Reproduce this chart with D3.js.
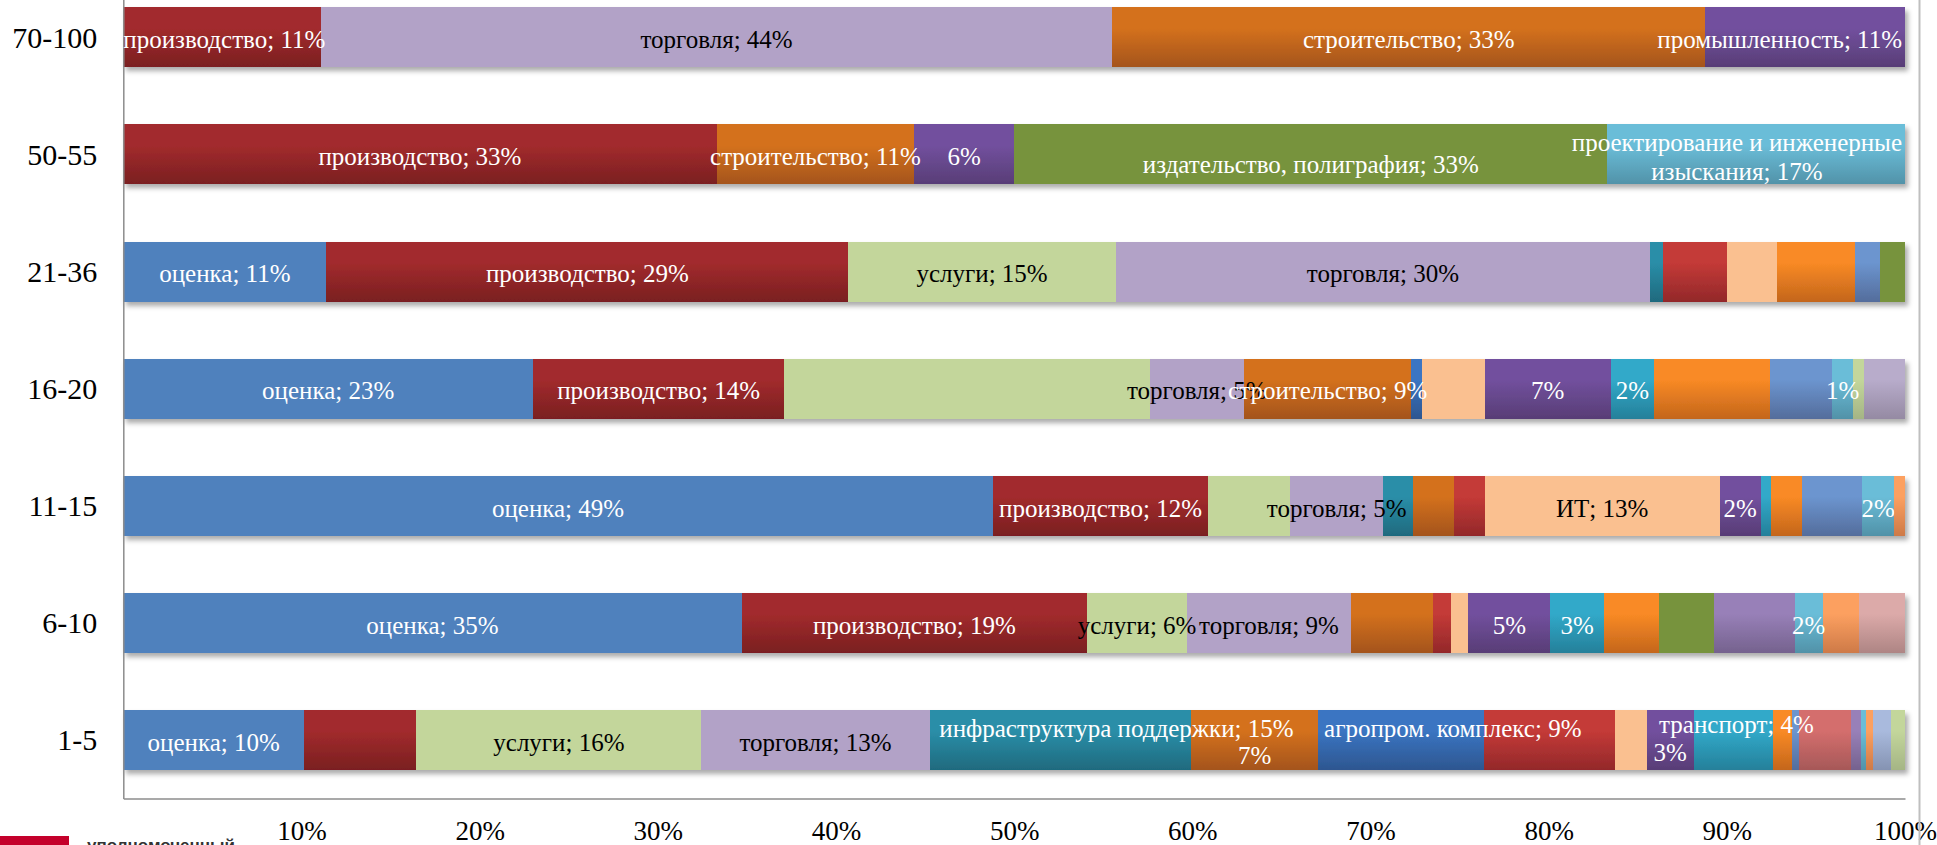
<!DOCTYPE html>
<html><head><meta charset="utf-8">
<script src="https://cdnjs.cloudflare.com/ajax/libs/d3/7.8.5/d3.min.js"></script>
<style>html,body{margin:0;padding:0;background:#fff;overflow:hidden}</style>
</head><body>
<svg id="chart" width="1937" height="845"></svg>
<script>
// ---------- data ----------
const categories = ["70-100", "50-55", "21-36", "16-20", "11-15", "6-10", "1-5"];

const seriesNames = [
  "оценка", "производство", "услуги", "торговля", "инфраструктура поддержки",
  "строительство", "агропром. комплекс", "прочее 8", "ИТ", "промышленность",
  "транспорт", "прочее 12", "прочее 13", "прочее 14", "издательство, полиграфия",
  "прочее 16", "проектирование и инженерные изыскания", "прочее 18", "прочее 19",
  "прочее 20", "прочее 21", "прочее 22"
];

const values_70_100 = [0, 11.1, 0, 44.4, 0, 33.3, 0, 0, 0, 11.2, 0, 0, 0, 0, 0, 0, 0, 0, 0, 0, 0, 0];
const values_50_55  = [0, 33.3, 0, 0, 0, 11.1, 0, 0, 0, 5.6, 0, 0, 0, 0, 33.3, 0, 16.7, 0, 0, 0, 0, 0];
const values_21_36  = [11.4, 29.3, 15.0, 30.0, 0.7, 0, 0, 3.6, 2.8, 0, 0, 4.4, 1.4, 0, 1.4, 0, 0, 0, 0, 0, 0, 0];
const values_16_20  = [23.0, 14.1, 20.5, 5.3, 0, 9.4, 0.6, 0, 3.5, 7.1, 2.4, 6.5, 3.5, 0, 0, 0, 1.2, 0, 0, 0, 0.6, 2.3];
const values_11_15  = [48.8, 12.1, 4.6, 5.2, 1.7, 2.3, 0, 1.7, 13.2, 2.3, 0.6, 1.7, 3.4, 0, 0, 0, 1.8, 0.6, 0, 0, 0, 0];
const values_6_10   = [34.7, 19.4, 5.6, 9.2, 0, 4.6, 0, 1.0, 1.0, 4.6, 3.0, 3.1, 0, 0, 3.1, 4.5, 1.6, 2.0, 2.6, 0, 0, 0];
const values_1_5    = [10.15, 6.3, 16.0, 12.8, 14.7, 7.1, 9.3, 7.35, 1.8, 2.65, 4.45, 1.05, 0.4, 2.9, 0, 0.6, 0.25, 0.4, 0, 1.0, 0.8, 0];

// label mode per point: "n" = name; value, "v" = value only, "" = no label
const labels_70_100 = ["", "n", "", "n", "", "n", "", "", "", "n", "", "", "", "", "", "", "", "", "", "", "", ""];
const labels_50_55  = ["", "n", "", "", "", "n", "", "", "", "v", "", "", "", "", "n", "", "n", "", "", "", "", ""];
const labels_21_36  = ["n", "n", "n", "n", "", "", "", "", "", "", "", "", "", "", "", "", "", "", "", "", "", ""];
const labels_16_20  = ["n", "n", "", "n", "", "n", "", "", "", "v", "v", "", "", "", "", "", "v", "", "", "", "", ""];
const labels_11_15  = ["n", "n", "", "n", "", "", "", "", "n", "v", "", "", "", "", "", "", "v", "", "", "", "", ""];
const labels_6_10   = ["n", "n", "n", "n", "", "", "", "", "", "v", "v", "", "", "", "", "", "v", "", "", "", "", ""];
const labels_1_5    = ["n", "", "n", "n", "n", "v", "n", "", "", "v", "n", "", "", "", "", "", "", "", "", "", "", ""];

const tickValues = [10, 20, 30, 40, 50, 60, 70, 80, 90, 100];
const tickLabels = ["10%", "20%", "30%", "40%", "50%", "60%", "70%", "80%", "90%", "100%"];

// ---------- styles ----------
const seriesTop = ["#4F81BD", "#A22B2D", "#C3D69B", "#B2A2C7", "#2A8EA8", "#D4711D", "#3A75C2", "#C43A37",
  "#FAC090", "#72509E", "#31A9C9", "#F98A25", "#6C95CF", "#D46E6D", "#77933C", "#9880B8",
  "#6BBDD8", "#FCA060", "#DCAAA9", "#A9BADD", "#C3D69B", "#B8ACCB"];
const seriesBottom = ["#4F81BD", "#7A1F20", "#C3D69B", "#B2A2C7", "#1F6A7E", "#A4541A", "#2D5690", "#93282A",
  "#FAC090", "#583D76", "#25809A", "#C4661C", "#546D9C", "#A65858", "#77933C", "#75628E",
  "#5192A8", "#CE7A48", "#AE8584", "#8593B2", "#A5B585", "#958AA3"];
const labelInk = seriesNames.map((d, i) => (i === 2 || i === 3 || i === 8) ? "#000" : "#fff");

const labelAdjust = {
  "1-5|4": {dx: 56, dy: -14},
  "1-5|5": {dy: 13},
  "1-5|6": {dx: 52, dy: -14},
  "1-5|9": {dy: 10},
  "1-5|10": {dx: 3, dy: -18},
  "50-55|14": {dy: 8},
  "50-55|16": {breakAfter: 3}
};

const valuesByCat = {
  "70-100": values_70_100, "50-55": values_50_55, "21-36": values_21_36, "16-20": values_16_20,
  "11-15": values_11_15, "6-10": values_6_10, "1-5": values_1_5
};
const labelsByCat = {
  "70-100": labels_70_100, "50-55": labels_50_55, "21-36": labels_21_36, "16-20": labels_16_20,
  "11-15": labels_11_15, "6-10": labels_6_10, "1-5": labels_1_5
};

// ---------- layout ----------
const svg = d3.select("#chart");
const xLeft = 123.3, xRight = 1905, yBottom = 798.5, step = 117.1;
const x = d3.scaleLinear().domain([0, 100]).range([xLeft, xRight]);
const y = d3.scaleBand().domain(categories)
  .range([yBottom - categories.length * step, yBottom])
  .paddingInner(0.4876).paddingOuter(0.2438);

const defs = svg.append("defs");
seriesNames.forEach((n, i) => {
  const g = defs.append("linearGradient").attr("id", "g" + i)
    .attr("x1", 0).attr("y1", 0).attr("x2", 0).attr("y2", 1);
  g.append("stop").attr("offset", 0).attr("stop-color", seriesTop[i]);
  g.append("stop").attr("offset", 0.35).attr("stop-color", seriesTop[i]);
  g.append("stop").attr("offset", 1).attr("stop-color", seriesBottom[i]);
});
const f = defs.append("filter").attr("id", "sh").attr("x", "-5%").attr("y", "-20%").attr("width", "110%").attr("height", "160%");
f.append("feDropShadow").attr("dx", 3).attr("dy", 4).attr("stdDeviation", 2.5)
  .attr("flood-color", "#000").attr("flood-opacity", 0.33);

// stacked data
const stackRows = categories.map(c => {
  const row = {cat: c};
  seriesNames.forEach((n, i) => row["s" + i] = valuesByCat[c][i]);
  return row;
});
const keys = seriesNames.map((n, i) => "s" + i);
const stacked = d3.stack().keys(keys)(stackRows);

// bars grouped per category (for shadow per bar)
const barGroups = svg.append("g").selectAll("g.bar").data(categories).join("g")
  .attr("class", "bar").attr("filter", "url(#sh)");
barGroups.each(function (c, ci) {
  const g = d3.select(this);
  stacked.forEach((layer, si) => {
    const d = layer[ci];
    if (d[1] - d[0] <= 0) return;
    g.append("rect")
      .attr("x", x(d[0])).attr("y", y(c))
      .attr("width", x(d[1]) - x(d[0])).attr("height", y.bandwidth())
      .attr("fill", "url(#g" + si + ")")
      .attr("shape-rendering", "crispEdges");
  });
});

// axes
const gx = svg.append("g").attr("transform", `translate(0,${yBottom})`)
  .call(d3.axisBottom(x).tickValues(tickValues).tickSize(0).tickSizeOuter(0).tickPadding(22.5)
    .tickFormat((d, i) => tickLabels[i]));
gx.select(".domain").attr("stroke", "#8C8C8C").attr("stroke-width", 1.5);
gx.selectAll("text").attr("font-family", "'Liberation Serif', serif").attr("font-size", 27).attr("fill", "#000");

const gy = svg.append("g").attr("transform", `translate(${xLeft},0)`)
  .call(d3.axisLeft(y).tickSize(0).tickSizeOuter(0).tickPadding(26));
gy.select(".domain").attr("stroke", "#8C8C8C").attr("stroke-width", 1.5);
gy.selectAll("text").attr("font-family", "'Liberation Serif', serif").attr("font-size", 30).attr("fill", "#000").attr("dy", "0.34em");

// data labels
const labelLayer = svg.append("g").attr("font-family", "'Liberation Serif', serif").attr("font-size", 25);
categories.forEach((c, ci) => {
  stacked.forEach((layer, si) => {
    const mode = labelsByCat[c][si];
    const d = layer[ci];
    if (!mode || d[1] - d[0] <= 0) return;
    const v = Math.round(d[1] - d[0]) + "%";
    const full = mode === "n" ? seriesNames[si] + "; " + v : v;
    const adj = labelAdjust[c + "|" + si] || {};
    let lines = [full];
    if (adj.breakAfter) {
      const w = full.split(" ");
      lines = [w.slice(0, adj.breakAfter).join(" "), w.slice(adj.breakAfter).join(" ")];
    }
    const cy = y(c) + y.bandwidth() / 2 + 2 + (adj.dy || 0);
    let cx = (x(d[0]) + x(d[1])) / 2 + (adj.dx || 0);
    const t = labelLayer.append("text").attr("fill", labelInk[si]).attr("text-anchor", "middle");
    const lh = 29;
    lines.forEach((ln, li) => {
      t.append("tspan").attr("x", cx)
        .attr("y", cy + (li - (lines.length - 1) / 2) * lh)
        .attr("dy", "0.35em").text(ln);
    });
    const w = t.node().getBBox().width;
    let shift = 0;
    if (cx + w / 2 > xRight - 3) shift = (xRight - 3) - (cx + w / 2);
    if (cx + shift - w / 2 < xLeft) shift = xLeft - (cx - w / 2);
    if (shift) t.selectAll("tspan").attr("x", cx + shift);
  });
});

// right border of the chart frame
svg.append("line").attr("x1", 1919.5).attr("x2", 1919.5).attr("y1", 0).attr("y2", 845)
  .attr("stroke", "#BFBFBF").attr("stroke-width", 2);

// slide footer logo (partly cut off)
svg.append("rect").attr("x", 0).attr("y", 836).attr("width", 69).attr("height", 12).attr("fill", "#C4002B");
svg.append("text").attr("x", 87).attr("y", 851).attr("font-family", "Arial, 'Liberation Sans', sans-serif")
  .attr("font-weight", "bold").attr("font-size", 17).attr("fill", "#333").text("уполномоченный");
</script>
</body></html>
